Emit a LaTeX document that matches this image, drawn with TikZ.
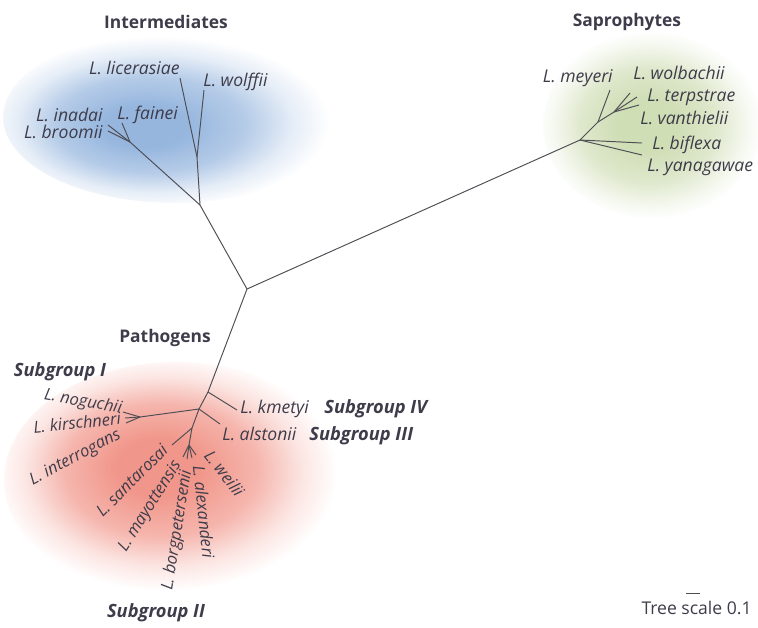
\documentclass[tikz,border=0pt]{standalone}
\usepackage{fontspec}
\setmainfont{Open Sans}
\usetikzlibrary{positioning}
\definecolor{inkgrey}{RGB}{62,60,74}
\definecolor{branchgrey}{RGB}{78,78,84}
\definecolor{intblue}{RGB}{150,182,222}
\definecolor{sapgreen}{RGB}{208,222,182}
\definecolor{patred}{RGB}{241,150,138}
\pgfdeclareradialshading{intfog}{\pgfpoint{-5bp}{-3bp}}{color(0bp)=(intblue); color(6bp)=(intblue); color(14bp)=(intblue!70!white); color(20bp)=(intblue!25!white); color(25bp)=(white); color(50bp)=(white)}
\pgfdeclareradialshading{sapfog}{\pgfpoint{-2bp}{0bp}}{color(0bp)=(sapgreen); color(7bp)=(sapgreen); color(15bp)=(sapgreen!70!white); color(21bp)=(sapgreen!25!white); color(25bp)=(white); color(50bp)=(white)}
\pgfdeclareradialshading{patfog}{\pgfpoint{-3bp}{3bp}}{color(0bp)=(patred); color(6bp)=(patred); color(14bp)=(patred!70!white); color(20bp)=(patred!25!white); color(25bp)=(white); color(50bp)=(white)}
\tikzset{
	branch/.style={draw=branchgrey, line width=0.55pt},
	leaf/.style={font=\fontsize{10}{12}\selectfont\itshape, text=inkgrey, inner sep=0pt},
	tightleaf/.style={leaf, font=\fontsize{9.4}{11}\selectfont\itshape},
	clade/.style={font=\fontsize{9.9}{12}\selectfont\bfseries, text=inkgrey, inner sep=0pt},
	subgroup/.style={font=\fontsize{10.4}{12}\selectfont\bfseries\itshape, text=inkgrey, inner sep=0pt},
	scalelabel/.style={font=\fontsize{10}{12}\selectfont, text=inkgrey, inner sep=0pt}
}
\begin{document}
\begin{tikzpicture}[x=0.02cm, y=-0.02cm]
	\useasboundingbox (0,0) rectangle (758,627);
	% Clouds
	\shade[shading=intfog] (175,117) ellipse [x radius=172, y radius=86];
	\shade[shading=sapfog] (655,125) ellipse [x radius=112, y radius=94];
	\shade[shading=patfog] (176,480) ellipse [x radius=172, y radius=118];

	% Titles
	\node[clade] (intermediates) at (166,22) {Intermediates};
	\node[clade] (saprophytes) at (627,22) {Saprophytes};
	\node[clade] (pathogens) at (165,338) {Pathogens};
	\node[subgroup] (sgI) at (60,372) {Subgroup I};
	\node[subgroup] (sgII) at (156,613) {Subgroup II};
	\node[subgroup, anchor=west] (sgIII) at (309,436) {Subgroup III};
	\node[subgroup, anchor=west] (sgIV) at (324,409) {Subgroup IV};

	% Inner nodes
	\coordinate (root) at (247,289);
	\coordinate (int) at (200,205);
	\coordinate (intA) at (130,142);
	\coordinate (intB) at (197,157);
	\coordinate (sap) at (580,140);
	\coordinate (sapA) at (598,122);
	\coordinate (sapB) at (614,112);
	\coordinate (pat) at (208,392);
	\coordinate (patB) at (199,409);
	\coordinate (sg1) at (140,417);
	\coordinate (sg2) at (192,428);
	\coordinate (sg2b) at (189,445);

	% Tips
	\coordinate (tLicer) at (180,78);
	\coordinate (tWolffii) at (204,90);
	\coordinate (tInadai) at (108,125);
	\coordinate (tBroomii) at (108,131);
	\coordinate (tFainei) at (122,123);
	\coordinate (tMeyeri) at (610,90);
	\coordinate (tWolbachii) at (630,93);
	\coordinate (tTerpstrae) at (637,97);
	\coordinate (tVanthielii) at (639,105);
	\coordinate (tBiflexa) at (642,143);
	\coordinate (tYanagawae) at (642,155);
	\coordinate (tKmetyi) at (237,410);
	\coordinate (tAlstonii) at (220,424);
	\coordinate (tNoguchii) at (123,412);
	\coordinate (tKirschneri) at (125,418);
	\coordinate (tInterrogans) at (126,423);
	\coordinate (tSantarosai) at (172,445);
	\coordinate (tMayott) at (183,457);
	\coordinate (tBorg) at (187,459);
	\coordinate (tAlex) at (192,458);
	\coordinate (tWeilii) at (196,455);

	% Branches
	\draw[branch] (root) -- (int);
	\draw[branch] (int) -- (intA);
	\draw[branch] (intA) -- (tInadai);
	\draw[branch] (intA) -- (tBroomii);
	\draw[branch] (intA) -- (tFainei);
	\draw[branch] (int) -- (intB);
	\draw[branch] (intB) -- (tLicer);
	\draw[branch] (intB) -- (tWolffii);

	\draw[branch] (root) -- (sap);
	\draw[branch] (sap) -- (sapA);
	\draw[branch] (sapA) -- (tMeyeri);
	\draw[branch] (sapA) -- (sapB);
	\draw[branch] (sapB) -- (tWolbachii);
	\draw[branch] (sapB) -- (tTerpstrae);
	\draw[branch] (sapB) -- (tVanthielii);
	\draw[branch] (sap) -- (tBiflexa);
	\draw[branch] (sap) -- (tYanagawae);

	\draw[branch] (root) -- (pat);
	\draw[branch] (pat) -- (tKmetyi);
	\draw[branch] (pat) -- (patB);
	\draw[branch] (patB) -- (tAlstonii);
	\draw[branch] (patB) -- (sg1);
	\draw[branch] (sg1) -- (tNoguchii);
	\draw[branch] (sg1) -- (tKirschneri);
	\draw[branch] (sg1) -- (tInterrogans);
	\draw[branch] (patB) -- (sg2);
	\draw[branch] (sg2) -- (tSantarosai);
	\draw[branch] (sg2) -- (sg2b);
	\draw[branch] (sg2b) -- (tMayott);
	\draw[branch] (sg2b) -- (tBorg);
	\draw[branch] (sg2b) -- (tAlex);
	\draw[branch] (sg2b) -- (tWeilii);

	% Species
	\node[leaf, anchor=east] (licerasiae) at (180,68) {L. licerasiae};
	\node[leaf, anchor=west] (wolffii) at (203,82) {L. wolffii};
	\node[leaf, anchor=east] (inadai) at (103,115) {L. inadai};
	\node[leaf, anchor=west] (fainei) at (117,115) {L. fainei};
	\node[leaf, anchor=east] (broomii) at (103,132) {L. broomii};

	\node[leaf, anchor=east] (meyeri) at (613,78) {L. meyeri};
	\node[leaf, anchor=west] (wolbachii) at (633,73) {L. wolbachii};
	\node[leaf, anchor=west] (terpstrae) at (647,97) {L. terpstrae};
	\node[leaf, anchor=west] (vanthielii) at (640,118) {L. vanthielii};
	\node[leaf, anchor=west] (biflexa) at (652,145) {L. biflexa};
	\node[leaf, anchor=west] (yanagawae) at (647,167) {L. yanagawae};

	\node[leaf, anchor=west] (kmetyi) at (240,409) {L. kmetyi};
	\node[leaf, anchor=west] (alstonii) at (222,434) {L. alstonii};
	\node[tightleaf, rotate=-10, anchor=east] (noguchii) at (122,409) {L. noguchii};
	\node[tightleaf, rotate=6, anchor=east] (kirschneri) at (121,418) {L. kirschneri};
	\node[tightleaf, rotate=28, anchor=east] (interrogans) at (120,434) {L. interrogans};
	\node[tightleaf, rotate=45, anchor=east] (santarosai) at (165,447) {L. santarosai};
	\node[tightleaf, rotate=58, anchor=east] (mayottensis) at (178,462) {L. mayottensis};
	\node[tightleaf, rotate=81, anchor=east] (borgpetersenii) at (187,470) {L. borgpetersenii};
	\node[tightleaf, rotate=-84, anchor=west] (alexanderi) at (199,465) {L. alexanderi};
	\node[tightleaf, rotate=-52, anchor=west] (weilii) at (208,452) {L. weilii};

	% Scale
	\coordinate (barL) at (686,593);
	\coordinate (barR) at (700,593);
	\draw[branch] (barL) -- (barR);
	\node[scalelabel, anchor=east] (treescale) at (752,608) {Tree scale 0.1};
\end{tikzpicture}
\end{document}
